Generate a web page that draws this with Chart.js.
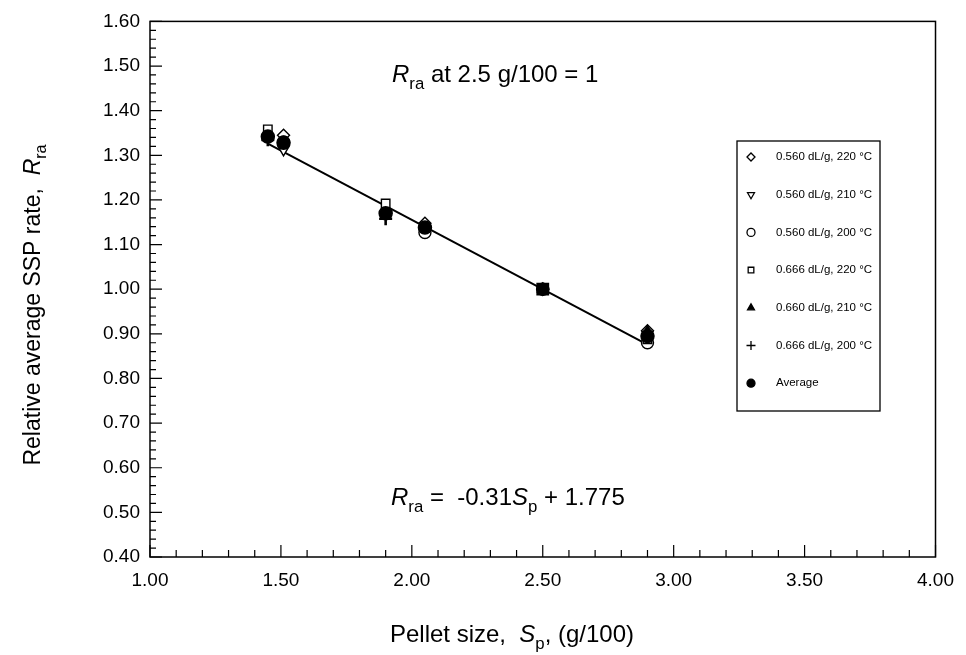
<!DOCTYPE html>
<html>
<head>
<meta charset="utf-8">
<script src="https://cdn.jsdelivr.net/npm/chart.js@4/dist/chart.umd.min.js"></script>
<style>
  html, body { margin: 0; padding: 0; background: #fff; }
  #wrap { width: 966px; height: 655px; }
</style>
</head>
<body>
<div id="wrap"><canvas id="chart" width="966" height="655"></canvas></div>
<script>
// pellet sizes (g/100)
var sizes560 = [1.51, 2.05, 2.50, 2.90];
var sizes666 = [1.45, 1.90, 2.50, 2.90];
var sizesAvg = [1.45, 1.51, 1.90, 2.05, 2.50, 2.90];

// relative average SSP rate
var r560_220 = [1.345, 1.148, 1.000, 0.907];
var r560_210 = [1.312, 1.135, 1.000, 0.898];
var r560_200 = [1.330, 1.127, 1.000, 0.880];
var r666_220 = [1.358, 1.192, 1.000, 0.888];
var r660_210 = [1.340, 1.165, 1.000, 0.905];
var r666_200 = [1.335, 1.158, 1.000, 0.893];
var rAverage = [1.342, 1.328, 1.170, 1.138, 1.000, 0.895];

// fitted line end points
var fitX = [1.45, 2.90];
var fitY = [1.326, 0.876];

var xTicks = [1.00, 1.50, 2.00, 2.50, 3.00, 3.50, 4.00];
var yTicks = [0.40, 0.50, 0.60, 0.70, 0.80, 0.90, 1.00, 1.10, 1.20, 1.30, 1.40, 1.50, 1.60];

var seriesNames = ['0.560 dL/g, 220 \u00B0C', '0.560 dL/g, 210 \u00B0C', '0.560 dL/g, 200 \u00B0C',
                   '0.666 dL/g, 220 \u00B0C', '0.660 dL/g, 210 \u00B0C', '0.666 dL/g, 200 \u00B0C', 'Average'];

function pts(xs, ys) {
    return xs.map(function(x, i) { return { x: x, y: ys[i] }; });
}

var FONT = '"Liberation Sans", Arial, sans-serif';

function markerSet(name, data, style, filled, rot, ord) {
    return {
        label: name,
        data: data,
        showLine: false,
        order: ord,
        pointStyle: style,
        rotation: rot || 0,
        pointRadius: style === 'cross' ? 6.5 : 6,
        pointBorderWidth: style === 'cross' ? 2.6 : 1.4,
        pointBorderColor: '#000',
        pointBackgroundColor: filled ? '#000' : '#fff'
    };
}

var datasets = [
    {
        label: 'fit',
        data: pts(fitX, fitY),
        showLine: true,
        order: 9,
        borderColor: '#000',
        borderWidth: 2,
        pointRadius: 0
    },
    markerSet(seriesNames[0], pts(sizes560, r560_220), 'rectRot', false, 0, 7),
    markerSet(seriesNames[1], pts(sizes560, r560_210), 'triangle', false, 180, 6),
    markerSet(seriesNames[2], pts(sizes560, r560_200), 'circle', false, 0, 5),
    markerSet(seriesNames[3], pts(sizes666, r666_220), 'rect', false, 0, 4),
    markerSet(seriesNames[4], pts(sizes666, r660_210), 'triangle', true, 0, 3),
    markerSet(seriesNames[5], pts(sizes666, r666_200), 'cross', true, 0, 2),
    markerSet(seriesNames[6], pts(sizesAvg, rAverage), 'circle', true, 0, 1)
];
// the reference point (2.5 g/100) shows as a solid square
datasets[7].pointStyle = function(c) { return (c.raw && c.raw.x === 2.5) ? 'rect' : 'circle'; };
datasets[7].pointRadius = function(c) { return (c.raw && c.raw.x === 2.5) ? 8 : 6.5; };
datasets[7].pointBorderWidth = 1.5;

// draw text made of pieces (italic, subscript)
function drawRich(ctx, parts, x, y, size) {
    var cx = x;
    parts.forEach(function(p) {
        var fs = p.sub ? size * 0.7 : size;
        ctx.font = (p.italic ? 'italic ' : '') + fs + 'px ' + FONT;
        ctx.fillText(p.t, cx, p.sub ? y + size * 0.28 : y);
        cx += ctx.measureText(p.t).width;
    });
    return cx - x;
}
function richWidth(ctx, parts, size) {
    var w = 0;
    parts.forEach(function(p) {
        var fs = p.sub ? size * 0.7 : size;
        ctx.font = (p.italic ? 'italic ' : '') + fs + 'px ' + FONT;
        w += ctx.measureText(p.t).width;
    });
    return w;
}

var decorations = {
    id: 'decorations',
    afterDraw: function(chart) {
        var ctx = chart.ctx;
        var a = chart.chartArea;
        var xs = chart.scales.x, ys = chart.scales.y;
        ctx.save();
        ctx.strokeStyle = '#000';
        ctx.fillStyle = '#000';

        // frame
        ctx.lineWidth = 1.5;
        ctx.strokeRect(a.left, a.top, a.right - a.left, a.bottom - a.top);

        // inward ticks
        ctx.lineWidth = 1.2;
        ctx.beginPath();
        for (var i = 0; i <= 30; i++) {
            var v = 1 + i * 0.1;
            var px = xs.getPixelForValue(v);
            var len = (i % 5 === 0) ? 12 : 7;
            ctx.moveTo(px, a.bottom);
            ctx.lineTo(px, a.bottom - len);
        }
        for (var j = 0; j <= 60; j++) {
            var w = 0.4 + j * 0.02;
            var py = ys.getPixelForValue(w);
            var l2 = (j % 5 === 0) ? 12 : 6;
            ctx.moveTo(a.left, py);
            ctx.lineTo(a.left + l2, py);
        }
        ctx.stroke();

        // annotation texts
        ctx.textAlign = 'left';
        ctx.textBaseline = 'alphabetic';
        drawRich(ctx, [{ t: 'R', italic: true }, { t: 'ra', sub: true }, { t: ' at 2.5 g/100 = 1' }], 392, 82, 24);
        drawRich(ctx, [{ t: 'R', italic: true }, { t: 'ra', sub: true }, { t: ' =  -0.31' },
                       { t: 'S', italic: true }, { t: 'p', sub: true }, { t: ' + 1.775' }], 391, 505, 24);

        // x title
        var xt = [{ t: 'Pellet size,  ' }, { t: 'S', italic: true }, { t: 'p', sub: true }, { t: ', (g/100)' }];
        var xw = richWidth(ctx, xt, 24);
        drawRich(ctx, xt, 512 - xw / 2, 642, 24);

        // y title
        var yt = [{ t: 'Relative average SSP rate,  ' }, { t: 'R', italic: true }, { t: 'ra', sub: true }];
        var yw = richWidth(ctx, yt, 23);
        ctx.save();
        ctx.translate(40, 305);
        ctx.rotate(-Math.PI / 2);
        drawRich(ctx, yt, -yw / 2, 0, 23);
        ctx.restore();

        // legend box
        var lx = 737, ly = 141, lw = 143, lh = 270;
        ctx.lineWidth = 1.3;
        ctx.strokeRect(lx, ly, lw, lh);
        ctx.font = '11.5px ' + FONT;
        ctx.textBaseline = 'middle';
        for (var k = 1; k < chart.data.datasets.length; k++) {
            var ds = chart.data.datasets[k];
            var yy = ly + 16 + (k - 1) * 37.7;
            var isCross = k === 6;
            ctx.save();
            ctx.strokeStyle = '#000';
            ctx.fillStyle = ds.pointBackgroundColor;
            Chart.helpers.drawPoint(ctx, {
                pointStyle: k === 7 ? 'circle' : ds.pointStyle,
                rotation: ds.rotation,
                radius: isCross ? 4.5 : 4,
                borderWidth: isCross ? 2.2 : 1.2
            }, lx + 14, yy);
            ctx.restore();
            ctx.fillStyle = '#000';
            ctx.fillText(ds.label, lx + 39, yy);
        }
        ctx.restore();
    }
};

var ctx = document.getElementById('chart').getContext('2d');
var myChart = new Chart(ctx, {
    type: 'scatter',
    data: { datasets: datasets },
    options: {
        responsive: false,
        animation: false,
        layout: { padding: { top: 18, right: 24, left: 0, bottom: 0 } },
        plugins: {
            legend: { display: false },
            tooltip: { enabled: false }
        },
        scales: {
            x: {
                type: 'linear',
                min: 1.0,
                max: 4.0,
                afterBuildTicks: function(s) { s.ticks = xTicks.map(function(v) { return { value: v }; }); },
                afterFit: function(s) { s.height = 98; },
                grid: { display: false, drawTicks: false },
                border: { display: false },
                ticks: {
                    padding: 12,
                    color: '#000',
                    font: { family: FONT, size: 19 },
                    callback: function(v) { return v.toFixed(2); }
                }
            },
            y: {
                type: 'linear',
                min: 0.4,
                max: 1.6,
                afterBuildTicks: function(s) { s.ticks = yTicks.map(function(v) { return { value: v }; }); },
                afterFit: function(s) { s.width = 150; },
                grid: { display: false, drawTicks: false },
                border: { display: false },
                ticks: {
                    padding: 10,
                    color: '#000',
                    font: { family: FONT, size: 19 },
                    callback: function(v) { return v.toFixed(2); }
                }
            }
        }
    },
    plugins: [decorations]
});
</script>
</body>
</html>
